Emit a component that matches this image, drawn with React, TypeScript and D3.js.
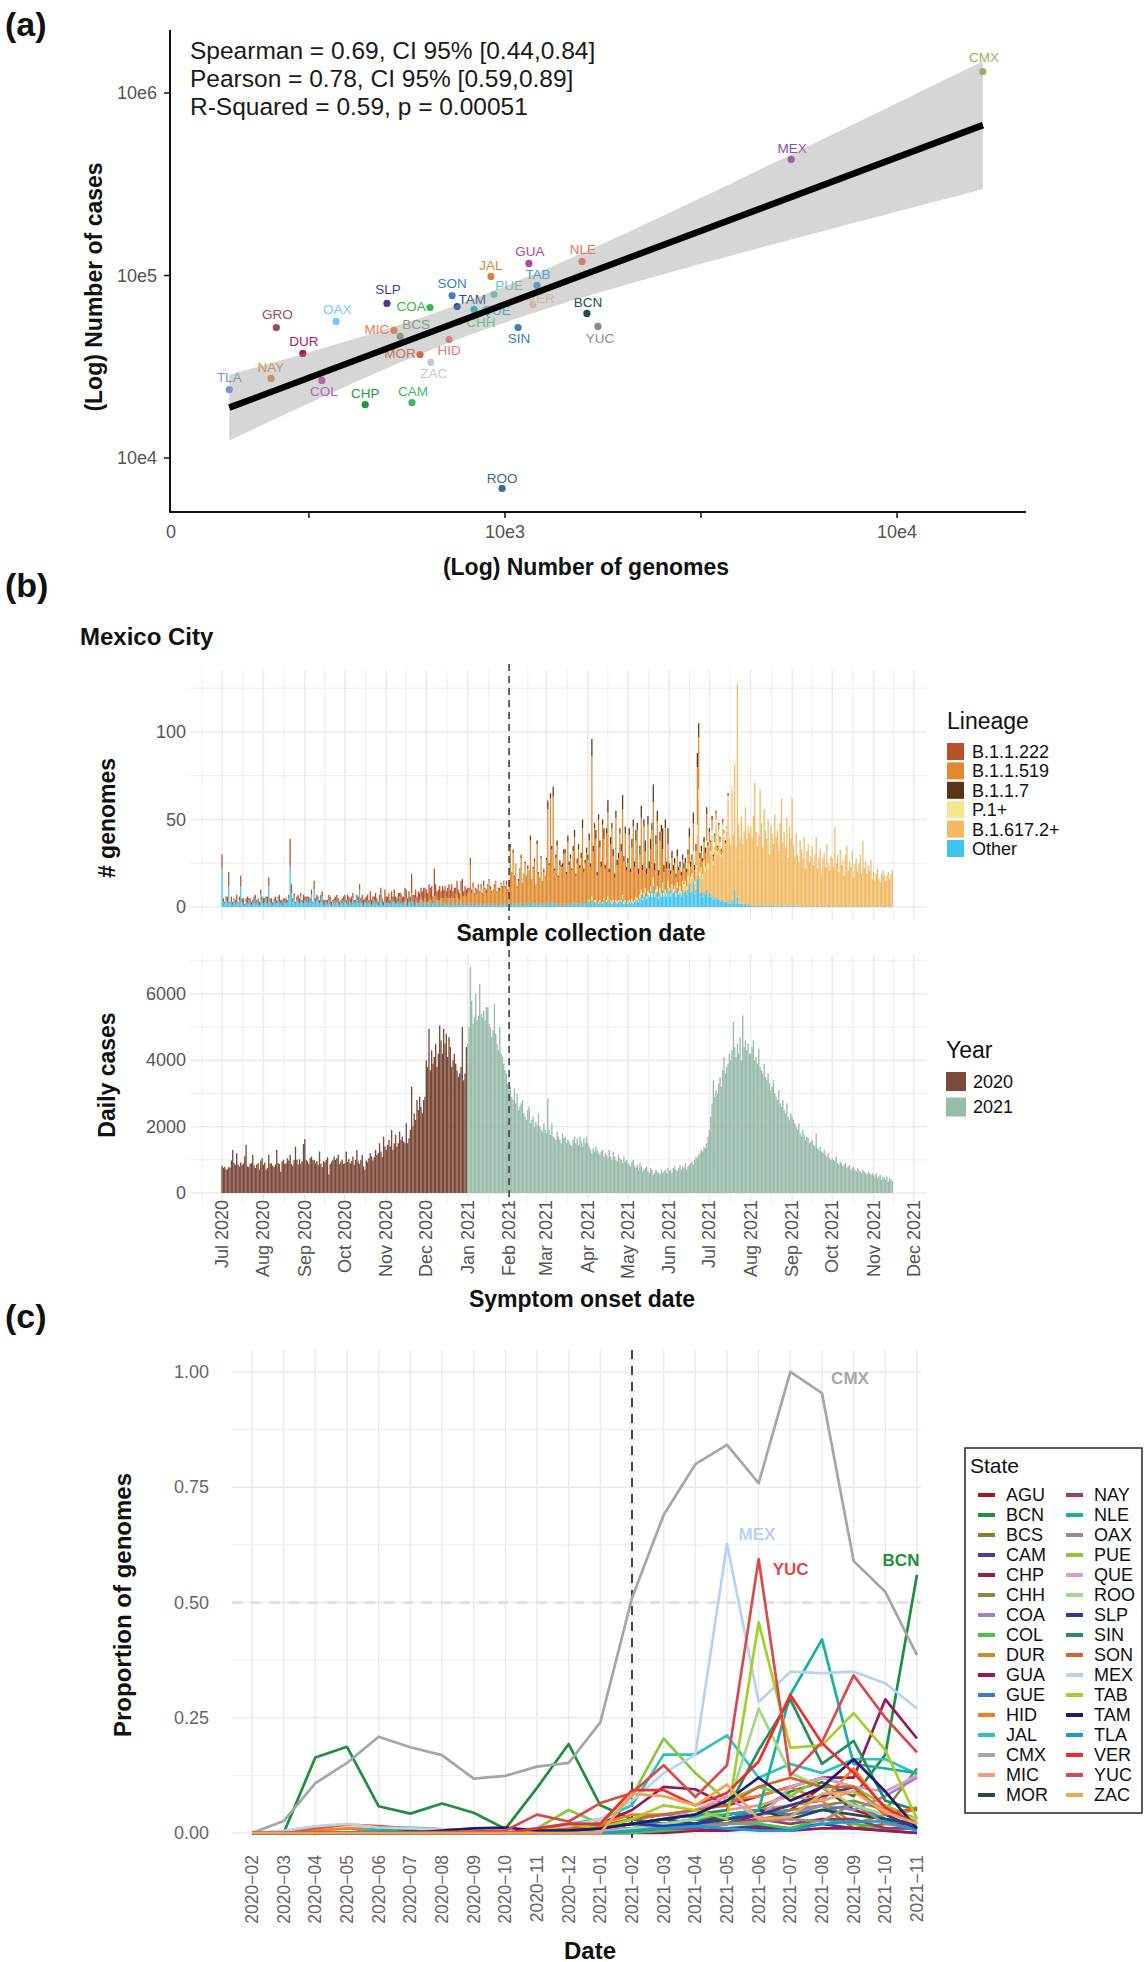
import React from "react";
import * as d3 from "d3";

const FONT = "'Liberation Sans', Arial, Helvetica, sans-serif";
const DAY = 86400000;
const parseDay = (s: string) => {
  const [y, m, d] = s.split("-").map(Number);
  return Date.UTC(y, m - 1, d);
};

/* ======================= (a) scatter data ======================= */
const stateCodesA = ["TLA","NAY","GRO","DUR","COL","OAX","CHP","SLP","MIC","BCS","CAM","COA","MOR","ZAC","SON","TAM","HID","CHH","QUE","PUE","JAL","ROO","SIN","GUA","TAB","VER","NLE","BCN","YUC","MEX","CMX"];
const genomesA = [198,253,261,305,341,371,440,500,521,540,579,644,607,647,733,755,720,767,834,938,921,983,1080,1151,1207,1178,1572,1618,1726,5370,16560];
const casesA = [23700,27300,51900,37400,26600,56000,19600,70300,50000,46400,20100,66800,36900,33400,77600,67600,44600,56000,65200,78700,98800,6810,51900,116400,88200,69300,119400,62000,52600,432500,1312000];
const stateColorsA = ["#6f98d8","#e3913f","#9b4a5e","#9a1c6a","#c04ab4","#72cdf0","#1f9a3c","#4b3a9c","#f47b3a","#7d9b7b","#3dba6c","#3cb54b","#e0622f","#c3cbcb","#3f82c5","#1a4f8e","#f3786d","#5ece82","#1ab6c9","#6ccbc1","#d6883a","#3b6a8c","#3a80b9","#a64aa3","#2aa9e1","#f3cfae","#f36b4f","#1f4d49","#8f8b81","#8b4cab","#9fb152"];
const statsLines = ["Spearman = 0.69, CI 95% [0.44,0.84]", "Pearson = 0.78, CI 95% [0.59,0.89]", "R-Squared = 0.59, p = 0.00051"];
const yTicksA = [1e4, 1e5, 1e6];
const yTickLabelsA = ["10e4", "10e5", "10e6"];
const xTicksA = [Math.pow(10, 2.5), 1e3, Math.pow(10, 3.5), 1e4];
const xTickLabelsA = ["", "10e3", "", "10e4"];
// label placement (style): centre offset from point in px
const labelOffsetA: Record<string, [number, number]> = {
  TLA:[0,-12], NAY:[0,-11], GRO:[1,-13], DUR:[1,-12], COL:[2,11], OAX:[1,-12], CHP:[0,-11], SLP:[1,-14],
  MIC:[-17,-1], BCS:[16,-12], CAM:[1,-11], COA:[-19,-1], MOR:[-20,-1], ZAC:[3,11], SON:[0,-12], TAM:[15,-7],
  HID:[0,11], CHH:[21,1], QUE:[22,1], PUE:[15,-9], JAL:[0,-11], ROO:[0,-10], SIN:[1,11], GUA:[1,-12],
  TAB:[1,-11], VER:[8,-6], NLE:[1,-12], BCN:[1,-11], YUC:[2,12], MEX:[1,-11], CMX:[1,-14],
};

/* ======================= (b) genomes by lineage (daily) ======================= */
const lineageNames = ["B.1.1.222", "B.1.1.519", "B.1.1.7", "P.1+", "B.1.617.2+", "Other"];
const lineageColors = ["#b4532a", "#e08a2e", "#5c3317", "#f5e68e", "#f2b962", "#41c4f0"];

const genomesOther2020 = [
  22,3,2,4,3,12,2,3,1,4,2,3,2,4,12,3,2,1,3,2,4,2,1,3,2,5,3,2,1,7,4,
  2,3,5,2,12,3,2,1,4,3,2,5,3,2,1,4,3,2,3,5,23,8,3,5,2,4,3,2,6,3,2,
  4,3,5,2,3,7,2,10,3,4,5,2,3,6,2,1,3,2,4,2,1,3,2,4,3,2,1,3,2,4,
  3,2,4,1,3,2,5,2,3,4,2,10,3,2,1,3,2,4,2,3,1,2,4,3,2,1,3,5,2,1,3,
  2,3,1,2,4,2,3,1,2,3,5,2,1,3,2,4,1,2,3,6,2,1,3,2,1,2,4,1,2,3,
  1,2,1,3,2,1,2,4,1,2,1,3,1,2,1,1,2,1,3,1,2,1,1,2,1,1,3,1,2,1,1,
];
const genomesOther2021 = [
  2,1,2,1,2,1,1,2,1,1,2,1,1,2,1,2,1,1,2,1,1,2,1,1,1,2,1,1,2,1,1,
  2,3,1,2,1,2,1,1,2,3,1,1,2,1,2,1,3,1,2,2,1,3,1,1,2,1,2,1,
  2,3,1,3,2,2,1,2,2,1,1,2,1,2,2,1,2,1,2,1,2,3,1,2,2,1,2,3,1,2,2,
  2,3,2,4,2,3,3,1,2,3,2,2,4,2,3,4,2,3,2,3,2,3,2,3,2,3,5,2,3,2,
  2,3,2,3,2,3,4,4,3,5,7,4,6,8,5,7,6,9,6,12,6,8,9,5,8,6,10,6,8,6,11,
  9,6,10,8,9,6,11,7,8,6,10,8,9,7,10,13,8,9,15,7,10,16,18,8,8,6,9,7,10,6,
  8,6,7,4,5,6,4,5,4,3,4,3,3,3,4,2,2,4,2,10,2,6,2,2,2,1,2,2,1,2,1,
  1,1,0,1,1,0,1,1,0,1,1,0,1,0,1,0,1,1,0,1,0,1,0,1,0,1,0,1,0,1,0,
  1,0,1,0,0,1,0,0,1,0,0,1,0,0,0,1,0,0,0,1,0,0,0,1,0,0,0,0,1,0,
  0,1,0,0,0,1,0,0,0,0,1,0,0,0,0,1,0,0,0,0,1,0,0,0,0,0,1,0,0,0,0,
  0,0,1,0,0,0,0,0,1,0,0,0,0,0,0,
];
const genomesB11222 = [
  8,2,1,2,3,8,1,3,2,1,2,4,1,2,6,2,3,1,2,4,1,3,2,1,4,2,1,3,2,3,2,
  3,2,1,4,5,2,3,2,1,3,2,1,4,2,3,1,2,3,1,2,16,5,2,3,1,2,4,3,2,1,5,
  2,3,1,4,2,3,1,5,2,3,1,2,4,3,2,3,1,2,3,4,2,1,3,2,4,3,2,1,3,2,
  4,2,3,5,2,4,3,2,1,3,4,3,2,5,3,2,4,3,2,6,3,4,2,5,3,2,4,6,3,2,7,
  4,3,6,2,5,3,7,4,3,5,2,6,4,3,8,5,4,6,3,11,4,6,5,3,7,4,6,5,8,6,
  7,5,9,6,8,4,16,7,5,6,8,4,7,5,9,3,6,8,5,7,4,6,3,8,5,4,6,10,3,5,4,
  3,2,4,2,3,1,2,3,2,1,2,1,3,1,2,1,1,2,1,1,2,1,1,1,2,1,1,1,1,2,1,
  1,1,0,1,1,0,1,0,1,1,0,1,0,0,1,0,1,0,0,1,0,0,1,0,0,0,1,0,
  0,1,0,0,0,1,0,0,0,0,1,0,0,0,0,0,1,0,0,0,0,0,0,1,0,0,0,0,0,0,0,
];
const genomesB11519 = [
  0,0,1,0,0,1,0,1,0,0,1,0,1,0,1,1,0,1,0,2,1,0,2,1,1,2,1,3,1,2,
  2,1,3,2,2,1,4,2,3,2,3,2,4,3,2,5,3,4,2,5,3,4,7,5,4,3,6,5,4,6,5,
  6,8,22,7,9,6,8,5,10,7,9,6,11,8,7,10,14,9,6,8,10,12,7,9,8,11,10,13,9,12,8,
  12,31,19,29,16,23,10,14,19,25,13,17,23,17,20,20,35,15,20,24,12,33,18,16,26,14,18,17,
  25,53,23,59,31,61,20,26,33,16,23,21,22,28,29,18,35,23,26,20,30,37,17,23,31,21,26,42,19,23,29,
  25,34,21,80,30,41,35,17,47,30,21,44,34,20,38,48,18,32,42,25,15,47,21,24,40,28,49,23,38,19,
  22,37,17,29,43,19,32,39,15,23,41,16,38,21,13,38,14,21,36,43,13,26,37,12,27,35,19,12,35,14,21,
  11,11,15,11,13,9,15,12,11,9,12,9,10,8,12,15,6,8,16,6,8,33,30,8,9,7,10,8,15,10,
  6,5,6,3,4,4,2,3,2,2,2,2,1,1,1,
];
const genomesB117 = [
  0,1,0,1,0,0,0,1,0,1,0,0,1,0,1,0,2,0,1,1,0,2,0,0,1,0,1,0,
  1,4,1,3,2,5,1,2,3,1,2,1,2,3,2,1,3,2,2,1,3,4,1,2,3,2,3,5,2,2,3,
  3,4,2,10,3,3,5,2,3,4,3,3,6,2,3,7,2,4,3,4,2,4,3,3,3,4,8,3,4,2,
  3,4,2,5,4,3,6,4,3,5,7,3,4,6,3,5,4,6,4,10,4,5,6,3,5,4,12,4,5,4,9,
  3,2,4,3,3,2,4,2,3,2,3,3,3,2,3,5,3,3,6,3,4,8,8,3,3,2,3,3,4,2,
  2,1,2,1,1,1,1,1,1,1,1,0,1,0,1,
];
const genomesP1 = [
  0,1,0,2,0,1,1,0,1,1,0,1,1,0,1,2,0,1,1,1,0,1,1,1,0,1,2,1,1,0,
  1,1,1,2,1,1,2,1,1,2,3,1,2,3,1,2,2,3,2,5,2,2,3,1,3,2,4,2,2,2,4,
  2,2,3,2,3,2,3,2,3,2,3,3,3,2,3,4,3,3,5,2,4,6,5,3,3,3,4,3,4,3,
  3,2,3,2,2,3,2,2,2,1,2,2,1,2,2,1,1,2,1,2,1,2,1,1,1,0,1,1,0,1,0,
];
const genomesDelta = [
  0,0,0,0,0,0,0,0,1,1,2,2,3,3,5,8,6,7,12,6,10,25,44,9,12,10,14,13,24,16,
  26,24,34,20,30,41,26,37,31,26,41,37,32,40,57,37,33,63,39,71,32,121,45,37,49,35,41,55,38,44,41,
  45,38,52,70,42,35,40,66,48,33,55,44,38,50,29,46,41,35,53,39,44,31,48,61,37,42,34,50,28,45,39,
  61,35,28,42,30,25,38,33,27,40,22,31,36,26,29,34,24,30,40,21,28,33,19,27,31,23,36,25,20,29,
  28,22,46,25,30,19,33,24,27,18,29,35,21,26,23,31,17,25,28,20,24,30,19,38,22,26,18,24,21,27,16,
  20,15,18,22,16,14,19,21,17,15,18,20,16,19,21,
];
const lineageSeries: [string, string, number[]][] = [
  ["Other", "2020-07-01", genomesOther2020],
  ["Other", "2021-01-01", genomesOther2021],
  ["B.1.1.222", "2020-07-01", genomesB11222],
  ["B.1.1.519", "2020-11-01", genomesB11519],
  ["B.1.1.7", "2021-02-01", genomesB117],
  ["P.1+", "2021-04-01", genomesP1],
  ["B.1.617.2+", "2021-06-01", genomesDelta],
];
const stackOrder = ["Other", "B.1.617.2+", "P.1+", "B.1.1.519", "B.1.1.7", "B.1.1.222"];

/* ======================= (b) daily cases ======================= */
const casesJul2020 = [820,760,790,700,720,780,760,980,1300,900,850,1200,860,800,920,840,890,1100,1450,800,780,880,900,1150,830,750,860,900,700,980,1050];
const casesAug2020 = [850,920,700,760,1150,880,900,820,780,860,1300,900,870,640,950,1000,880,900,1050,980,1150,870,820,990,1400,1000,860,1020,880,950,1480];
const casesSep2020 = [1620,1000,950,880,1050,1100,990,1000,900,960,850,1250,880,780,960,920,1000,1080,560,870,940,990,1100,1000,1050,1150,870,950,1000,880];
const casesOct2020 = [900,1250,940,1020,890,960,1100,850,1000,1300,950,870,1000,1150,800,700,980,930,1050,1200,1100,980,1080,1300,1150,1200,1500,1250,1080,1700,1400];
const casesNov2020 = [1300,1450,1600,1400,1900,1300,1500,1750,1400,1500,1850,1600,1700,1550,1500,2100,1500,1650,1900,3200,2000,2400,2200,2800,2500,2900,2600,2400,2800,2900];
const casesDec2020 = [4000,3800,4950,3700,4300,3900,4100,4500,3800,4200,5050,4600,4200,4950,4500,4800,4100,4700,4400,3800,4000,4200,3900,3700,3500,3600,3800,5000,3400,3600,4400];
const casesJan2021 = [4500,5000,6820,5800,5100,5300,6000,5200,5350,6300,5400,5300,5500,5200,5600,5600,5100,5000,4700,4900,5700,4800,4500,4300,5000,4200,4100,3900,3700,3600,3300];
const casesFeb2021 = [3100,3200,2900,2800,3150,2700,3000,2500,2600,2700,2800,2400,2300,2200,2500,2600,2100,2200,2300,2000,2150,2050,2400,2000,1900,1850,2100,1900];
const casesMar2021 = [1800,2850,1900,1750,2100,1700,1650,1600,1850,1700,1600,1500,1800,1650,1700,1500,1600,1550,1450,1400,1600,1700,1500,1650,1450,1700,1550,1400,1650,1500,1700];
const casesApr2021 = [1500,1400,1300,1200,1350,1250,1400,1300,1200,1150,1250,1300,1100,1200,1150,1050,1300,1100,1000,1250,1100,1000,950,1150,1050,1000,900,1100,950,1000];
const casesMay2021 = [900,850,800,950,1000,800,750,850,700,900,800,650,700,750,800,650,600,750,700,550,600,700,650,600,550,700,600,650,700,600,750];
const casesJun2021 = [650,700,600,750,800,700,650,750,850,700,800,750,900,700,800,850,900,950,850,1000,1100,1050,1150,1200,1300,1250,1400,1350,1500,1700];
const casesJul2021 = [1900,2300,2700,3400,2900,3100,3000,3300,3500,3200,3700,4100,3600,3800,3900,4200,4000,4300,5150,4400,4100,4500,4200,4700,4000,5350,4400,4600,4300,4500,4200];
const casesAug2021 = [4200,4400,4600,4000,4100,3900,4350,3800,3700,3600,3900,3500,3400,3600,3300,3100,3200,3400,3000,2900,2800,3100,2700,2600,2800,2500,2400,2700,2300,2200,2400];
const casesSep2021 = [2300,2200,2100,2000,1900,2100,1800,1700,1900,1750,1600,1700,1650,1500,1550,1600,1450,1400,1800,1350,1300,1400,1250,1200,1300,1150,1100,1200,1050,1000];
const casesOct2021 = [1050,1000,950,1100,900,850,950,900,800,850,900,750,800,850,700,750,800,700,650,750,700,650,600,700,650,600,550,650,600,550,600];
const casesNov2021 = [550,500,600,450,500,550,400,500,450,400,500,350,450,400,350];
const caseMonths: [string, number[]][] = [
  ["2020-07-01", casesJul2020], ["2020-08-01", casesAug2020], ["2020-09-01", casesSep2020],
  ["2020-10-01", casesOct2020], ["2020-11-01", casesNov2020], ["2020-12-01", casesDec2020],
  ["2021-01-01", casesJan2021], ["2021-02-01", casesFeb2021], ["2021-03-01", casesMar2021],
  ["2021-04-01", casesApr2021], ["2021-05-01", casesMay2021], ["2021-06-01", casesJun2021],
  ["2021-07-01", casesJul2021], ["2021-08-01", casesAug2021], ["2021-09-01", casesSep2021],
  ["2021-10-01", casesOct2021], ["2021-11-01", casesNov2021],
];
const yearNames = ["2020", "2021"];
const yearColors = ["#7b4a3a", "#98bbaa"];
const yTicksTop = [0, 50, 100];
const yTicksBot = [0, 2000, 4000, 6000];

/* ======================= (c) proportions by state ======================= */
const monthsC = ["2020-02","2020-03","2020-04","2020-05","2020-06","2020-07","2020-08","2020-09","2020-10","2020-11","2020-12","2021-01","2021-02","2021-03","2021-04","2021-05","2021-06","2021-07","2021-08","2021-09","2021-10","2021-11"];
const stateCodesC = ["AGU","BCN","BCS","CAM","CHP","CHH","COA","COL","DUR","GUA","GUE","HID","JAL","CMX","MIC","MOR","NAY","NLE","OAX","PUE","QUE","ROO","SLP","SIN","SON","MEX","TAB","TAM","TLA","VER","YUC","ZAC"];
const stateColorsC = ["#a3191c","#1f8e3d","#8f7c2a","#463c9a","#9b1b4b","#8a8a48","#9b82c9","#4cbf4b","#c98a2b","#8e1c5c","#3b7cc2","#f27c2a","#2cc1c3","#a6a6a6","#f29a7c","#2b4747","#9a3c6c","#17b0a6","#9b8b8b","#8cc63f","#d99bd1","#9ed98c","#2b3b9b","#2a8b5c","#d9622b","#b8d3f0","#a2cf2c","#1c1c6c","#1c9bda","#f02b2b","#d94b4b","#f2a255"];
const propAGU = [0,0,0,0,0,0,0,0,0,0,0,0.005,0.01,0.02,0.015,0.02,0.04,0.05,0.1,0.05,0.03,0.01];
const propBCN = [0,0,0.164,0.187,0.058,0.042,0.064,0.044,0.009,0.098,0.193,0.06,0.03,0.02,0.03,0.02,0.05,0.09,0.11,0.08,0.17,0.56];
const propBCS = [0,0,0,0,0,0,0,0,0,0,0,0,0.005,0.01,0.02,0.02,0.03,0.04,0.06,0.01,0.02,0.03];
const propCAM = [0,0,0,0,0,0,0,0,0,0,0,0,0,0.005,0.005,0.01,0.015,0.01,0.02,0.01,0.005,0];
const propCHP = [0,0,0,0,0,0,0,0,0,0,0,0,0,0,0.005,0.005,0.01,0.005,0.01,0.01,0.005,0];
const propCHH = [0,0,0,0,0,0,0,0,0,0,0.005,0.01,0.02,0.03,0.02,0.03,0.04,0.05,0.06,0.07,0.05,0.14];
const propCOA = [0,0,0,0,0,0,0,0,0,0,0,0.005,0.01,0.02,0.02,0.03,0.05,0.04,0.06,0.05,0.08,0.12];
const propCOL = [0,0,0,0,0,0,0,0,0,0,0,0,0,0.005,0.01,0.02,0.02,0.01,0.03,0.02,0.01,0.01];
const propDUR = [0,0,0,0,0,0,0,0,0,0,0,0.005,0.01,0.02,0.03,0.04,0.05,0.06,0.07,0.02,0.04,0.05];
const propGUA = [0,0,0,0,0,0,0,0,0,0.005,0.01,0.02,0.05,0.1,0.095,0.06,0.08,0.1,0.12,0.12,0.29,0.205];
const propGUE = [0,0,0,0,0,0,0,0,0,0,0.005,0.01,0.02,0.02,0.03,0.03,0.05,0.04,0.05,0.06,0.03,0.02];
const propHID = [0,0,0.005,0.01,0.008,0.005,0.004,0.003,0.002,0.005,0.01,0.02,0.04,0.04,0.05,0.07,0.08,0.1,0.07,0.14,0.05,0.02];
const propJAL = [0,0,0,0,0.01,0.012,0.008,0.005,0.005,0.01,0.02,0.03,0.06,0.17,0.17,0.212,0.12,0.15,0.13,0.16,0.16,0.128];
const propCMX = [0,0.026,0.108,0.152,0.209,0.186,0.169,0.118,0.124,0.144,0.152,0.24,0.51,0.69,0.80,0.842,0.759,1.0,0.954,0.59,0.523,0.386];
const propMIC = [0,0,0,0,0,0,0,0,0,0,0.005,0.01,0.02,0.03,0.04,0.05,0.06,0.08,0.07,0.09,0.05,0.02];
const propMOR = [0,0,0,0,0,0.005,0.004,0.003,0.002,0.003,0.01,0.015,0.02,0.03,0.02,0.04,0.05,0.03,0.05,0.04,0.03,0.02];
const propNAY = [0,0,0,0,0,0,0,0,0,0,0,0,0.005,0.01,0.01,0.02,0.03,0.02,0.03,0.03,0.01,0.01];
const propNLE = [0,0,0,0,0.005,0.01,0.005,0,0,0.005,0.01,0.015,0.03,0.04,0.035,0.04,0.05,0.3,0.42,0.15,0.14,0.13];
const propOAX = [0,0,0,0,0,0,0,0,0,0,0,0.005,0.01,0.01,0.015,0.02,0.025,0.03,0.025,0.065,0.02,0.01];
const propPUE = [0,0,0,0,0,0,0,0,0,0.01,0.05,0.02,0.08,0.205,0.13,0.07,0.1,0.08,0.12,0.1,0.06,0.03];
const propQUE = [0,0,0,0,0,0,0,0,0,0,0,0.005,0.02,0.03,0.05,0.08,0.03,0.1,0.12,0.1,0.09,0.125];
const propROO = [0,0,0,0,0,0,0,0,0,0,0,0,0.01,0.02,0.03,0.05,0.27,0.13,0.1,0.06,0.04,0.03];
const propSLP = [0,0,0,0,0,0,0,0,0.005,0.003,0.005,0.01,0.02,0.015,0.02,0.03,0.04,0.06,0.08,0.1,0.04,0.01];
const propSIN = [0,0,0,0,0,0,0,0,0,0,0.005,0.01,0.02,0.03,0.04,0.05,0.18,0.29,0.15,0.2,0.07,0.05];
const propSON = [0,0,0.01,0.018,0.015,0.01,0.008,0.005,0.003,0.005,0.01,0.015,0.03,0.04,0.05,0.06,0.1,0.12,0.1,0.1,0.04,0.055];
const propMEX = [0,0.005,0.015,0.02,0.012,0.01,0.008,0.005,0.006,0.01,0.015,0.03,0.07,0.13,0.17,0.627,0.284,0.35,0.347,0.35,0.325,0.27];
const propTAB = [0,0,0,0,0,0,0,0,0,0.005,0.02,0.01,0.03,0.06,0.05,0.03,0.457,0.185,0.19,0.26,0.18,0.03];
const propTAM = [0,0,0,0,0,0,0.005,0.01,0.012,0.005,0.005,0.01,0.02,0.03,0.04,0.07,0.12,0.07,0.1,0.16,0.09,0.01];
const propTLA = [0,0,0,0,0,0,0,0,0,0,0,0,0.005,0.01,0.015,0.01,0.005,0.005,0.02,0.025,0.025,0.005];
const propVER = [0,0,0,0,0,0,0,0,0,0.01,0.02,0.02,0.093,0.093,0.06,0.087,0.155,0.3,0.195,0.13,0.055,0.02];
const propYUC = [0,0,0,0,0,0,0.002,0.003,0.005,0.04,0.025,0.065,0.087,0.147,0.078,0.147,0.594,0.125,0.197,0.342,0.25,0.175];
const propZAC = [0,0,0,0,0,0,0,0,0,0,0,0,0.085,0.08,0.06,0.105,0.03,0.035,0.085,0.09,0.045,0.02];
const proportions = [propAGU,propBCN,propBCS,propCAM,propCHP,propCHH,propCOA,propCOL,propDUR,propGUA,propGUE,propHID,propJAL,propCMX,propMIC,propMOR,propNAY,propNLE,propOAX,propPUE,propQUE,propROO,propSLP,propSIN,propSON,propMEX,propTAB,propTAM,propTLA,propVER,propYUC,propZAC];
const yTicksC = [0, 0.25, 0.5, 0.75, 1];
// highlighted line labels: [state, month anchor, dx, dy]
const lineLabelsC: [string, string, number, number][] = [
  ["CMX", "2021-08", 28, -15],
  ["MEX", "2021-05", 30, -9],
  ["YUC", "2021-06", 32, 10],
  ["BCN", "2021-11", -16, -14],
];

export default function App() {
  /* ---------- (a) ---------- */
  const xA = d3.scaleLog().domain([139.8, 21330]).range([170, 1026]);
  const yA = d3.scaleLog().domain([5058, 2.16e6]).range([512, 32]);
  const lx = genomesA.map((v) => Math.log10(v));
  const ly = casesA.map((v) => Math.log10(v));
  const n = lx.length;
  const mx = d3.mean(lx) as number;
  const my = d3.mean(ly) as number;
  const sxx = d3.sum(lx, (v) => (v - mx) ** 2);
  const sxy = d3.sum(lx.map((v, i) => (v - mx) * (ly[i] - my)));
  const slope = sxy / sxx;
  const icpt = my - slope * mx;
  const sse = d3.sum(lx.map((v, i) => (ly[i] - icpt - slope * v) ** 2));
  const s = Math.sqrt(sse / (n - 2));
  const tval = 2.045;
  const lxMin = d3.min(lx) as number;
  const lxMax = d3.max(lx) as number;
  const gridX = d3.range(0, 61).map((k) => lxMin + ((lxMax - lxMin) * k) / 60);
  const bandPts = gridX.map((x) => {
    const fit = icpt + slope * x;
    const se = s * Math.sqrt(1 / n + (x - mx) ** 2 / sxx);
    return { x, lo: fit - tval * se, hi: fit + tval * se };
  });
  const bandPath = d3
    .area<{ x: number; lo: number; hi: number }>()
    .x((d) => xA(10 ** d.x))
    .y0((d) => yA(10 ** d.lo))
    .y1((d) => yA(10 ** d.hi))(bandPts) as string;
  const fitLine = [lxMin, lxMax].map((x) => [xA(10 ** x), yA(10 ** (icpt + slope * x))]);

  /* ---------- (b) ---------- */
  const xB = d3.scaleUtc().domain([Date.UTC(2020, 5, 7), Date.UTC(2021, 11, 11)]).range([190, 927]);
  const yTop = d3.scaleLinear().domain([-7.4, 135.4]).range([920, 670]);
  const yBot = d3.scaleLinear().domain([-332, 7175]).range([1204, 955]);
  const t0 = Date.UTC(2020, 6, 1);
  const nDays = 503;
  const perLineage: Record<string, number[]> = {};
  lineageNames.forEach((nm) => (perLineage[nm] = new Array(nDays).fill(0)));
  lineageSeries.forEach(([nm, start, arr]) => {
    const off = Math.round((parseDay(start) - t0) / DAY);
    arr.forEach((v, i) => {
      const d = off + i;
      if (d >= 0 && d < nDays) perLineage[nm][d] += v;
    });
  });
  const barW = 1.25;
  const genomeRects: JSX.Element[] = [];
  for (let d = 0; d < nDays; d++) {
    const cx = xB(t0 + d * DAY);
    let cum = 0;
    stackOrder.forEach((nm) => {
      const v = perLineage[nm][d];
      if (v > 0) {
        const y1 = yTop(cum + v);
        const y0 = yTop(cum);
        genomeRects.push(
          <rect key={`g${d}-${nm}`} x={cx - barW / 2} y={y1} width={barW} height={y0 - y1}
            fill={lineageColors[lineageNames.indexOf(nm)]} />
        );
        cum += v;
      }
    });
  }
  const caseRects: JSX.Element[] = [];
  caseMonths.forEach(([start, arr]) => {
    const ms = parseDay(start);
    arr.forEach((v, i) => {
      const t = ms + i * DAY;
      const yr = new Date(t).getUTCFullYear() === 2020 ? 0 : 1;
      caseRects.push(
        <rect key={`c${t}`} x={xB(t) - 0.67} y={yBot(v)} width={1.34} height={yBot(0) - yBot(v)} fill={yearColors[yr]} />
      );
    });
  });
  const monthTicks = d3.utcMonth.range(Date.UTC(2020, 6, 1), Date.UTC(2021, 11, 2));
  const minorTicks = [Date.UTC(2020, 5, 16), ...monthTicks.slice(0, -1).map((m, i) => new Date((+m + +monthTicks[i + 1]) / 2))];
  const fmtMonth = d3.utcFormat("%b %Y");
  const dashDate = Date.UTC(2021, 1, 1);

  /* ---------- (c) ---------- */
  const xC = d3.scalePoint<string>().domain(monthsC).range([252, 917]);
  const yC = d3.scaleLinear().domain([-0.0108, 1.0477]).range([1838, 1350]);
  const lineGen = d3.line<number>().x((_, i) => xC(monthsC[i]) as number).y((v) => yC(v));

  const gridCol = "#ebebef";
  const tickCol = "#555";

  return (
    <svg width={1145} height={1962} style={{ position: "absolute", left: 0, top: 0, display: "block" }} fontFamily={FONT}>
      <rect x={0} y={0} width={1145} height={1962} fill="#fff" />

      {/* ================= (a) ================= */}
      <text x={5} y={36} fontSize={34} fontWeight="bold" fill="#111">(a)</text>
      {statsLines.map((t, i) => (
        <text key={t} x={190} y={59 + i * 28} fontSize={24.5} fill="#1a1a1a">{t}</text>
      ))}
      {stateCodesA.map((c, i) => {
        const px = xA(genomesA[i]);
        const py = yA(casesA[i]);
        const [dx, dy] = labelOffsetA[c];
        return (
          <g key={c}>
            <circle cx={px} cy={py} r={3.6} fill={stateColorsA[i]} />
            <text x={px + dx} y={py + dy} fontSize={13.5} fill={stateColorsA[i]} textAnchor="middle" dominantBaseline="central">{c}</text>
          </g>
        );
      })}
      <path d={bandPath} fill="#999" fillOpacity={0.4} />
      <line x1={fitLine[0][0]} y1={fitLine[0][1]} x2={fitLine[1][0]} y2={fitLine[1][1]} stroke="#000" strokeWidth={6.5} />
      <line x1={170} y1={30} x2={170} y2={513} stroke="#111" strokeWidth={2} />
      <line x1={169} y1={512} x2={1026} y2={512} stroke="#111" strokeWidth={2} />
      {yTicksA.map((t, i) => (
        <g key={t}>
          <line x1={164} x2={170} y1={yA(t)} y2={yA(t)} stroke="#111" strokeWidth={1.5} />
          <text x={157} y={yA(t)} fontSize={18} fill={tickCol} textAnchor="end" dominantBaseline="central">{yTickLabelsA[i]}</text>
        </g>
      ))}
      {xTicksA.map((t, i) => (
        <g key={t}>
          <line x1={xA(t)} x2={xA(t)} y1={512} y2={518} stroke="#111" strokeWidth={1.5} />
          <text x={xA(t)} y={538} fontSize={18} fill={tickCol} textAnchor="middle">{xTickLabelsA[i]}</text>
        </g>
      ))}
      <text x={171} y={538} fontSize={18} fill={tickCol} textAnchor="middle">0</text>
      <text x={586} y={567} fontSize={23} fontWeight="bold" fill="#111" textAnchor="middle" dominantBaseline="central">(Log) Number of genomes</text>
      <text transform="translate(94,287) rotate(-90)" fontSize={23} fontWeight="bold" fill="#111" textAnchor="middle" dominantBaseline="central">(Log) Number of cases</text>

      {/* ================= (b) ================= */}
      <text x={5} y={597} fontSize={34} fontWeight="bold" fill="#111">(b)</text>
      <text x={80} y={645} fontSize={24} fontWeight="bold" fill="#111">Mexico City</text>

      {/* top grid */}
      {[25, 75, 125].map((v) => (
        <line key={`tm${v}`} x1={190} x2={927} y1={yTop(v)} y2={yTop(v)} stroke={gridCol} strokeWidth={0.9} />
      ))}
      {yTicksTop.map((v) => (
        <line key={`tM${v}`} x1={190} x2={927} y1={yTop(v)} y2={yTop(v)} stroke={gridCol} strokeWidth={1.5} />
      ))}
      {minorTicks.map((m, i) => (
        <line key={`tvm${i}`} x1={xB(m)} x2={xB(m)} y1={670} y2={920} stroke={gridCol} strokeWidth={0.9} />
      ))}
      {monthTicks.map((m, i) => (
        <line key={`tvM${i}`} x1={xB(m)} x2={xB(m)} y1={670} y2={920} stroke={gridCol} strokeWidth={1.5} />
      ))}
      {genomeRects}
      <line x1={xB(dashDate)} x2={xB(dashDate)} y1={664} y2={920} stroke="#444" strokeWidth={1.6} strokeDasharray="7,5" />
      {yTicksTop.map((v) => (
        <text key={`tl${v}`} x={186} y={yTop(v)} fontSize={18} fill={tickCol} textAnchor="end" dominantBaseline="central">{v}</text>
      ))}
      <text transform="translate(107,818) rotate(-90)" fontSize={23} fontWeight="bold" fill="#111" textAnchor="middle" dominantBaseline="central"># genomes</text>
      <text x={581} y={933} fontSize={23} fontWeight="bold" fill="#111" textAnchor="middle" dominantBaseline="central">Sample collection date</text>

      {/* lineage legend */}
      <text x={947} y={729} fontSize={23} fill="#111">Lineage</text>
      {lineageNames.map((nm, i) => (
        <g key={nm}>
          <rect x={947} y={743 + i * 19.4} width={17} height={17} fill={lineageColors[i]} />
          <text x={972} y={752 + i * 19.4} fontSize={18} fill="#111" dominantBaseline="central">{nm}</text>
        </g>
      ))}

      {/* bottom grid */}
      {[1000, 3000, 5000, 7000].map((v) => (
        <line key={`bm${v}`} x1={190} x2={927} y1={yBot(v)} y2={yBot(v)} stroke={gridCol} strokeWidth={0.9} />
      ))}
      {yTicksBot.map((v) => (
        <line key={`bM${v}`} x1={190} x2={927} y1={yBot(v)} y2={yBot(v)} stroke={gridCol} strokeWidth={1.5} />
      ))}
      {minorTicks.map((m, i) => (
        <line key={`bvm${i}`} x1={xB(m)} x2={xB(m)} y1={955} y2={1204} stroke={gridCol} strokeWidth={0.9} />
      ))}
      {monthTicks.map((m, i) => (
        <line key={`bvM${i}`} x1={xB(m)} x2={xB(m)} y1={955} y2={1204} stroke={gridCol} strokeWidth={1.5} />
      ))}
      {caseRects}
      <line x1={xB(dashDate)} x2={xB(dashDate)} y1={950} y2={1204} stroke="#444" strokeWidth={1.6} strokeDasharray="7,5" />
      {yTicksBot.map((v) => (
        <text key={`bl${v}`} x={186} y={yBot(v)} fontSize={18} fill={tickCol} textAnchor="end" dominantBaseline="central">{v}</text>
      ))}
      {monthTicks.map((m, i) => (
        <text key={`bx${i}`} transform={`translate(${xB(m)},1200) rotate(-90)`} fontSize={18} fill={tickCol} textAnchor="end" dominantBaseline="central">{fmtMonth(m)}</text>
      ))}
      <text transform="translate(107,1075) rotate(-90)" fontSize={23} fontWeight="bold" fill="#111" textAnchor="middle" dominantBaseline="central">Daily cases</text>
      <text x={582} y={1299} fontSize={23} fontWeight="bold" fill="#111" textAnchor="middle" dominantBaseline="central">Symptom onset date</text>

      {/* year legend */}
      <text x={946} y={1058} fontSize={23} fill="#111">Year</text>
      {yearNames.map((nm, i) => (
        <g key={nm}>
          <rect x={946} y={1072 + i * 25.5} width={20} height={19} fill={yearColors[i]} />
          <text x={973} y={1081.5 + i * 25.5} fontSize={18} fill="#111" dominantBaseline="central">{nm}</text>
        </g>
      ))}

      {/* ================= (c) ================= */}
      <text x={5} y={1328} fontSize={34} fontWeight="bold" fill="#111">(c)</text>
      {[0.125, 0.375, 0.625, 0.875].map((v) => (
        <line key={`cm${v}`} x1={232} x2={921} y1={yC(v)} y2={yC(v)} stroke={gridCol} strokeWidth={0.9} />
      ))}
      {yTicksC.map((v) => (
        <line key={`cM${v}`} x1={232} x2={921} y1={yC(v)} y2={yC(v)} stroke={gridCol} strokeWidth={1.5} />
      ))}
      {monthsC.map((m) => (
        <line key={`cv${m}`} x1={xC(m)} x2={xC(m)} y1={1350} y2={1838} stroke={gridCol} strokeWidth={1.5} />
      ))}
      <line x1={232} x2={921} y1={yC(0.5)} y2={yC(0.5)} stroke="#e2e2e2" strokeWidth={3} strokeDasharray="10,9" />
      <line x1={xC("2021-02")} x2={xC("2021-02")} y1={1350} y2={1838} stroke="#333" strokeWidth={1.8} strokeDasharray="9,7" />
      {proportions.map((arr, i) => (
        <path key={stateCodesC[i]} d={lineGen(arr) as string} fill="none" stroke={stateColorsC[i]} strokeWidth={2.7} strokeLinejoin="round" strokeLinecap="butt" />
      ))}
      {lineLabelsC.map(([code, month, dx, dy]) => {
        const si = stateCodesC.indexOf(code);
        const mi = monthsC.indexOf(month);
        return (
          <text key={`ll${code}`} x={(xC(month) as number) + dx} y={yC(proportions[si][mi]) + dy} fontSize={17} fontWeight="bold"
            fill={stateColorsC[si]} textAnchor="middle" dominantBaseline="central">{code}</text>
        );
      })}
      {yTicksC.map((v) => (
        <text key={`cyl${v}`} x={209} y={yC(v)} fontSize={18} fill="#666" textAnchor="end" dominantBaseline="central">{v.toFixed(2)}</text>
      ))}
      {monthsC.map((m) => (
        <text key={`cxl${m}`} transform={`translate(${xC(m)},1855) rotate(-90)`} fontSize={17.5} fill="#666" textAnchor="end" dominantBaseline="central">{m.replace("-", "\u2212")}</text>
      ))}
      <text transform="translate(122,1605) rotate(-90)" fontSize={24} fontWeight="bold" fill="#111" textAnchor="middle" dominantBaseline="central">Proportion of genomes</text>
      <text x={590} y={1950} fontSize={24} fontWeight="bold" fill="#111" textAnchor="middle" dominantBaseline="central">Date</text>

      {/* state legend */}
      <rect x={965} y={1448} width={177} height={365} fill="#fff" stroke="#333" strokeWidth={1.6} />
      <text x={970} y={1465} fontSize={21} fill="#111" dominantBaseline="central">State</text>
      {stateCodesC.map((c, i) => {
        const col = i < 16 ? 0 : 1;
        const row = i % 16;
        const cy = 1495 + row * 20;
        const sx = col === 0 ? 978 : 1066;
        return (
          <g key={`leg${c}`}>
            <line x1={sx} x2={sx + 17} y1={cy} y2={cy} stroke={stateColorsC[i]} strokeWidth={4} />
            <text x={sx + 28} y={cy} fontSize={18} fill="#111" dominantBaseline="central">{c}</text>
          </g>
        );
      })}
    </svg>
  );
}
